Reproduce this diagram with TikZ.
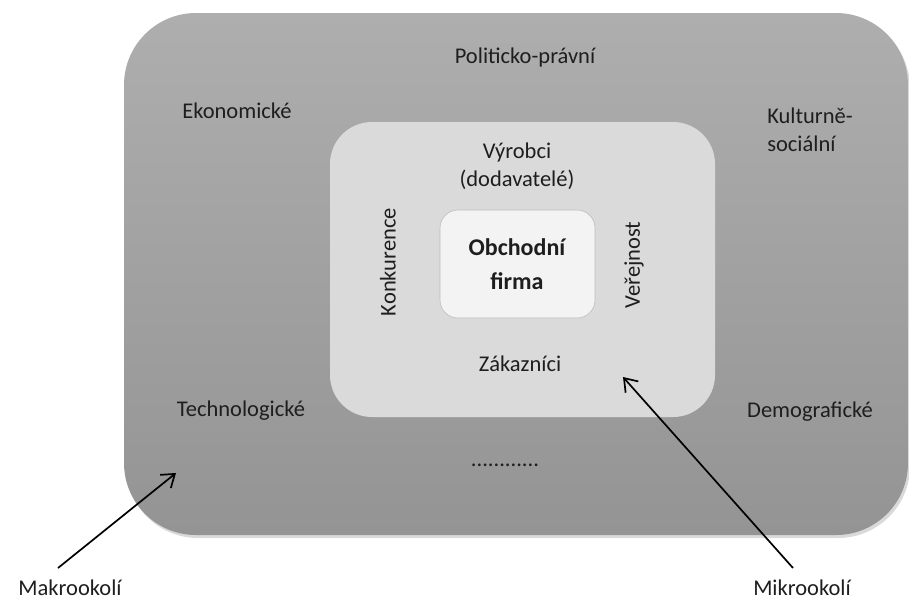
\documentclass[tikz,border=0pt]{standalone}
\usepackage{fontspec}
\setmainfont{Carlito}
\usetikzlibrary{arrows.meta,shadows}
\definecolor{outtop}{HTML}{AEAEAE}
\definecolor{outbot}{HTML}{949494}
\definecolor{midfill}{HTML}{DADADA}
\definecolor{corefill}{HTML}{F3F3F3}
\definecolor{coreline}{HTML}{BDBDBD}
\definecolor{txt}{HTML}{1E1E1E}
\tikzset{
  lbl/.style={text=txt, font=\fontsize{22.5}{28}\selectfont, inner sep=0pt, align=center},
  boldlbl/.style={text=txt, font=\fontsize{24}{34}\selectfont\bfseries, inner sep=0pt, align=center},
  arr/.style={draw=black, line width=1.7pt, -{Straight Barb[length=12pt,width=17pt,line width=1.7pt]}},
}
\begin{document}
\begin{tikzpicture}[x=1pt,y=-1pt]
\useasboundingbox (0,0) rectangle (909,603);
% outer box
\node[rounded corners=72pt, top color=outtop, bottom color=outbot, draw=none,
      minimum width=784pt, minimum height=522pt, inner sep=0pt,
      drop shadow={shadow xshift=2pt, shadow yshift=-3pt, opacity=0.25, fill=black!60}]
      (outer) at (516,274) {};
% middle box
\node[rounded corners=42pt, fill=midfill, draw=none,
      minimum width=385pt, minimum height=295pt, inner sep=0pt]
      (mid) at (522.5,269.5) {};
% core box
\node[rounded corners=18pt, fill=corefill, draw=coreline, line width=0.6pt,
      minimum width=155pt, minimum height=108pt, inner sep=0pt]
      (core) at (517.5,264) {};
\node[boldlbl] (firma) at (517,264) {Obchodní\\firma};
% macro labels
\node[lbl] (pol) at (525,57) {Politicko-právní};
\node[lbl] (eko) at (237,111) {Ekonomické};
\node[lbl, align=left] (kul) at (810,130) {Kulturně-\\sociální};
\node[lbl] (tech) at (241,411) {Technologické};
\node[lbl] (demo) at (810,412) {Demografické};
\node[lbl] (dots) at (505,465) {............};
% micro labels
\node[lbl] (vyr) at (517,166) {Výrobci\\(dodavatelé)};
\node[lbl, rotate=90] (kon) at (388,262) {Konkurence};
\node[lbl, rotate=90] (ver) at (634,265) {Veřejnost};
\node[lbl] (zak) at (520,364) {Zákazníci};
% bottom labels and arrows
\node[lbl] (makro) at (70,588) {Makrookolí};
\node[lbl] (mikro) at (802,588) {Mikrookolí};
\coordinate (makroT) at (58,568);
\coordinate (makroH) at (176,473);
\coordinate (mikroT) at (793,568);
\coordinate (mikroH) at (623,377);
\draw[arr] (makroT) -- (makroH);
\draw[arr] (mikroT) -- (mikroH);
\end{tikzpicture}
\end{document}
